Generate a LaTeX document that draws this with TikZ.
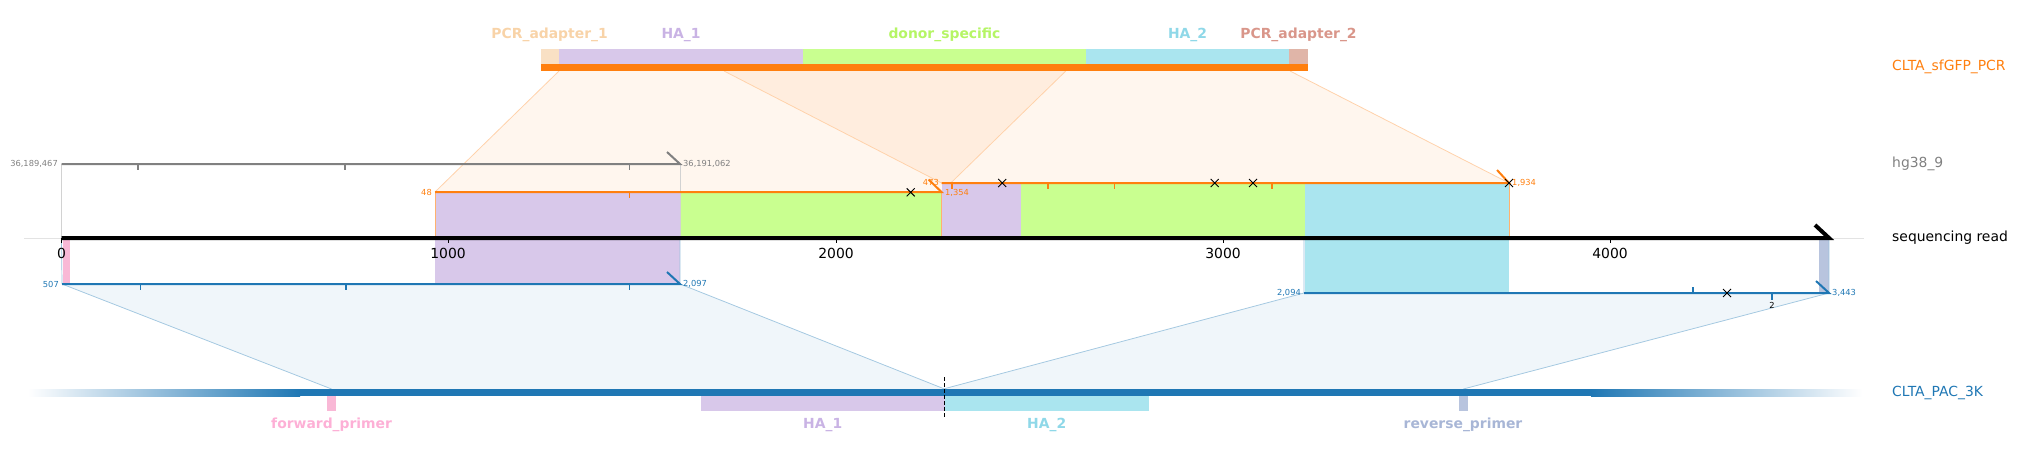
\documentclass[tikz,border=0pt]{standalone}
\usepackage{fontspec}
\setmainfont{DejaVu Sans}
\definecolor{tOr}{HTML}{FF7F0E}
\definecolor{tBl}{HTML}{1F77B4}
\definecolor{tGr}{HTML}{808080}
\definecolor{cPur}{HTML}{D8C8EA}
\definecolor{cGrn}{HTML}{C9FF90}
\definecolor{cCyn}{HTML}{AAE5EF}
\definecolor{cPAa}{HTML}{F9E0C4}
\definecolor{cPAb}{HTML}{E0B5A8}
\definecolor{cPink}{HTML}{F9B8D6}
\definecolor{cSteel}{HTML}{B8C4DE}
\definecolor{lPAa}{HTML}{F8D3A8}
\definecolor{lPur}{HTML}{C9B3E4}
\definecolor{lGrn}{HTML}{B5F565}
\definecolor{lCyn}{HTML}{8FD8E8}
\definecolor{lPAb}{HTML}{D9968A}
\definecolor{lPink}{HTML}{FDB0D6}
\definecolor{lSteel}{HTML}{A8B6D6}
\tikzset{
  lbl/.style={font=\fontsize{13.9}{16}\selectfont, inner sep=0pt},
  blbl/.style={font=\fontsize{13.9}{16}\selectfont\bfseries, inner sep=0pt},
  smalllbl/.style={font=\fontsize{8.3}{10}\selectfont, inner sep=0pt},
  alnline/.style={line width=2pt, line join=miter},
  tk/.style={line width=1.5pt},
  orpoly/.style={fill=tOr, fill opacity=0.07},
  oredge/.style={draw=tOr!35, line width=0.8pt},
  blpoly/.style={fill=tBl, fill opacity=0.065},
  bledge/.style={draw=tBl!40, line width=0.8pt},
  xmark/.pic={\draw[black,line width=1pt] (-4,-4)--(4,4) (-4,4)--(4,-4);}
}
\begin{document}
\begin{tikzpicture}[x=1pt,y=-1pt]
\useasboundingbox (0,0) rectangle (2017,461);
% ---------- key coordinates ----------
\coordinate (t48) at (559,71);
\coordinate (t1354) at (1065.8,71);
\coordinate (t473) at (724,71);
\coordinate (t1934) at (1290,71);
\coordinate (o48) at (435,192);
\coordinate (o1354) at (941.5,192);
\coordinate (o473) at (941.5,183);
\coordinate (o1934) at (1509,183);
\coordinate (g1) at (61.5,164);
\coordinate (g2) at (680,164);
\coordinate (b507) at (62,284);
\coordinate (b2097) at (680,284);
\coordinate (b2094) at (1304,293);
\coordinate (b3443) at (1829,293);
\coordinate (p507) at (331.6,389);
\coordinate (p2097) at (944.5,389);
\coordinate (p2094) at (943.3,389);
\coordinate (p3443) at (1463.3,389);
\coordinate (ax0) at (61.5,238);
\coordinate (axe) at (1829,238);
% ---------- alignment polygons ----------
\path[orpoly] (t48)--(t1354)--(o1354)--(o48)--cycle;
\path[orpoly] (t473)--(t1934)--(o1934)--(o473)--cycle;
\path[blpoly] (b507)--(b2097)--(p2097)--(p507)--cycle;
\path[blpoly] (b2094)--(b3443)--(p3443)--(p2094)--cycle;
\draw[oredge] (t48)--(o48) (t1354)--(o1354) (t473)--(o473) (t1934)--(o1934);
\draw[bledge] (b507)--(p507) (b2097)--(p2097) (b2094)--(p2094) (b3443)--(p3443);
% ---------- feature boxes on the read ----------
\fill[cPur] (435,192) rectangle (680,284);
\fill[cGrn] (680,192) rectangle (941.5,238);
\fill[cPur] (941.5,183) rectangle (1021.4,238);
\fill[cGrn] (1021.4,183) rectangle (1305,238);
\fill[cCyn] (1305,183) rectangle (1509,293);
\fill[cPink] (62.5,238) rectangle (70,284);
\fill[cSteel] (1819,238) rectangle (1829,293);
% thin edges
\draw[gray!35, line width=0.7pt] (g1)--(ax0) (g2)--(680,238);
\draw[tOr!60, line width=0.8pt] (o48)--(435,238) (o1354)--(941.5,238) (o1934)--(1509,238);
\draw[tBl!45, line width=0.7pt] (ax0)--(b507) (680,238)--(b2097) (1304,238)--(b2094) (axe)--(b3443);
% ---------- sequencing read axis ----------
\draw[gray!22, line width=0.7pt] (24,238)--(1864,238);
\draw[black, line width=4pt, line join=miter] (ax0)--(axe)--++(-14,-13);
\foreach \x/\t [count=\i] in {61.5/0,448/1000,836/2000,1223/3000,1610/4000}{
  \draw[black, line width=0.8pt] (\x,238)--(\x,243);
  \node[lbl, anchor=north] (axl\i) at (\x,248) {\t};
}
% ---------- alignment lines ----------
\draw[tGr, alnline] (g1)--(g2)--++(-13,-12);
\foreach \x in {138,345,629.5}{\draw[tGr,tk] (\x,164)--(\x,170);}
\draw[tOr, alnline] (o48)--(o1354)--++(-13,-12.5);
\draw[tOr,tk] (629.5,192)--(629.5,198);
\draw[tOr, alnline] (o473)--(o1934)--++(-12,-13);
\foreach \x in {951.8,1047.8,1114.3,1271.9}{\draw[tOr,tk] (\x,183)--(\x,189);}
\draw[tBl, alnline] (b507)--(b2097)--++(-13,-12);
\foreach \x in {140.6,346,629.5}{\draw[tBl,tk] (\x,284)--(\x,290);}
\draw[tBl, alnline] (b2094)--(b3443)--++(-13,-12);
\draw[tBl,tk] (1692.8,293)--(1692.8,287);
\draw[tBl,tk] (1772,293)--(1772,300);
\node[smalllbl, anchor=north] (del2) at (1772,302) {2};
% crosses
\pic at (910.7,192.3) {xmark};
\pic at (1002.2,183) {xmark};
\pic at (1214.7,183) {xmark};
\pic at (1253,183) {xmark};
\pic at (1509,183) {xmark};
\pic at (1727,293) {xmark};
% coordinate labels
\node[smalllbl, text=tGr, anchor=east] (gs) at (58,164) {36,189,467};
\node[smalllbl, text=tGr, anchor=west] (ge) at (683,164) {36,191,062};
\node[smalllbl, text=tOr, anchor=east] (os1) at (432,192) {48};
\node[smalllbl, text=tOr, anchor=west] (oe1) at (945,193) {1,354};
\node[smalllbl, text=tOr, anchor=east] (os2) at (939,182) {473};
\node[smalllbl, text=tOr, anchor=west] (oe2) at (1512,183) {1,934};
\node[smalllbl, text=tBl, anchor=east] (bs1) at (59,284) {507};
\node[smalllbl, text=tBl, anchor=west] (be1) at (683,284) {2,097};
\node[smalllbl, text=tBl, anchor=east] (bs2) at (1301,293) {2,094};
\node[smalllbl, text=tBl, anchor=west] (be2) at (1832,293) {3,443};
% ---------- top: CLTA_sfGFP_PCR ----------
\fill[tOr] (540.7,64) rectangle (1308.3,70.7);
\fill[cPAa] (540.7,49) rectangle (559,64);
\fill[cPur] (559,49) rectangle (803,64);
\fill[cGrn] (803,49) rectangle (1086,64);
\fill[cCyn] (1086,49) rectangle (1289,64);
\fill[cPAb] (1289,49) rectangle (1308.3,64);
\node[blbl, text=lPAa] (tpa1) at (549.6,35) {PCR\_adapter\_1};
\node[blbl, text=lPur] (tha1) at (681,35) {HA\_1};
\node[blbl, text=lGrn] (tdon) at (944.5,35) {donor\_specific};
\node[blbl, text=lCyn] (tha2) at (1187.5,35) {HA\_2};
\node[blbl, text=lPAb] (tpa2) at (1298.5,35) {PCR\_adapter\_2};
% ---------- bottom: CLTA_PAC_3K ----------
\shade[left color=white, right color=tBl] (28,389) rectangle (300,396);
\fill[tBl] (299.5,389) rectangle (1591.5,396);
\shade[left color=tBl, right color=white] (1591,389) rectangle (1862,396);
\fill[cPink] (327,396) rectangle (336,411);
\fill[cPur] (701,396) rectangle (944.5,411);
\fill[cCyn] (944.5,396) rectangle (1149,411);
\fill[cSteel] (1459,396) rectangle (1468,411);
\draw[black, line width=1pt, dash pattern=on 4pt off 2pt] (944.5,377)--(944.5,417);
\node[blbl, text=lPink] (bfp) at (331.6,425) {forward\_primer};
\node[blbl, text=lPur] (bha1) at (822.7,425) {HA\_1};
\node[blbl, text=lCyn] (bha2) at (1046.7,425) {HA\_2};
\node[blbl, text=lSteel] (brp) at (1463,425) {reverse\_primer};
% ---------- side labels ----------
\node[lbl, text=tOr, anchor=west] (nsf) at (1892,67) {CLTA\_sfGFP\_PCR};
\node[lbl, text=tGr, anchor=west] (nhg) at (1892,164) {hg38\_9};
\node[lbl, text=black, anchor=west] (nsr) at (1892,238) {sequencing read};
\node[lbl, text=tBl, anchor=west] (npac) at (1892,393) {CLTA\_PAC\_3K};
\end{tikzpicture}
\end{document}
